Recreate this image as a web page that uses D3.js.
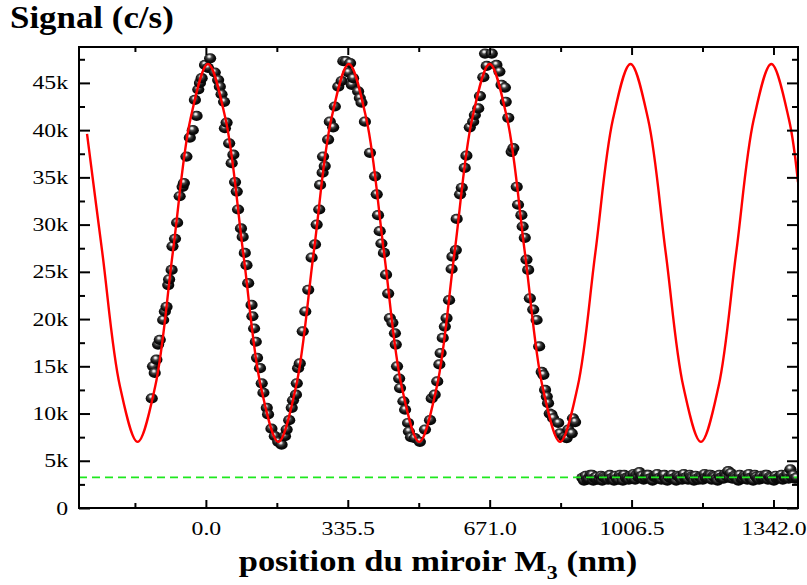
<!DOCTYPE html>
<html>
<head>
<meta charset="utf-8">
<script src="https://cdn.jsdelivr.net/npm/d3@7/dist/d3.min.js"></script>
<style>
  html, body { margin: 0; padding: 0; background: #fff; }
  svg { display: block; }
  text { font-family: "Liberation Serif", "Times New Roman", serif; }
</style>
</head>
<body>
<svg id="chart" width="807" height="585"></svg>
<script>
// ---------------- DATA ----------------
// measured points, oscillating part: mirror position (nm) and signal (k c/s)
const obsX = [
  -128,-125,-121,-117,-113,-109,-101,-97,-93,-89,-87,-81,-79,-73,-68,-62,-55,-52,-46,-38,-31,-26,-22,-18,-14,-10,-2,5,10,
  21,29,33,37,43,45,49,55,61,65,69,73,76,83,87,92,96,100,108,110,114,118,121,128,132,136,144,147,155,163,171,179,
  187,191,197,203,206,213,215,218,222,229,235,242,250,258,262,268,270,276,277,281,289,293,301,305,313,321,325,331,337,341,
  345,348,360,364,368,376,388,400,404,407,411,415,421,426,431,435,441,447,449,452,457,459,467,471,478,480,485,494,506,
  518,530,534,541,547,552,555,560,565,569,575,581,583,591,593,601,605,612,616,624,632,636,644,648,656,660,664,676,
  687,694,699,707,709,715,723,727,735,738,746,749,754,758,762,766,774,782,788,794,798,802,806,809,813,817,821,833,837,847,853,857,865,868,873
];
const obsY = [
  11.6,15.0,14.3,15.7,17.3,17.8,19.9,20.8,21.3,23.6,24.2,25.2,27.7,28.5,30.2,33.0,34.0,34.4,37.2,39.2,40.0,43.2,41.5,44.3,45.0,45.5,46.9,46.6,47.6,
  46.1,45.3,44.6,43.8,43.0,40.2,40.8,38.6,36.5,37.4,34.5,33.5,31.6,29.6,28.7,27.0,25.7,23.8,21.5,20.3,19.0,17.6,15.9,14.8,13.2,12.2,10.6,9.9,8.4,7.6,7.0,6.7,
  7.6,8.3,9.3,10.6,11.4,12.0,13.2,14.8,15.3,18.7,20.8,23.1,26.5,27.9,30.0,31.6,34.2,35.5,37.2,36.2,39.0,40.9,40.3,42.5,44.6,45.2,47.3,47.3,46.1,47.1,
  44.8,45.5,44.1,43.4,42.9,40.9,37.6,35.1,33.2,31.0,29.3,28.0,27.0,24.7,22.7,20.1,19.6,18.5,17.3,15.0,13.7,12.7,11.3,10.4,9.0,8.1,7.5,7.4,7.0,
  8.3,9.3,11.6,12.0,13.4,15.2,16.4,18.0,19.2,20.1,22.0,25.3,26.6,27.3,30.6,33.2,33.9,36.0,37.3,40.3,40.9,41.6,42.3,43.6,45.6,48.1,46.8,48.1,
  46.9,46.2,44.8,44.5,43.0,41.3,37.7,38.1,34.0,32.1,31.0,29.8,28.6,26.3,25.2,22.2,21.0,19.9,17.1,14.4,14.1,12.5,11.8,11.1,10.0,9.9,9.5,9.0,7.9,7.5,7.4,8.3,7.9,9.5,9.1
];
// measured points, flat (background) part
const flatX = [
  890,894,898,902,905,909,913,916,919,923,926,930,934,937,940,944,947,951,955,958,
  961,965,968,972,976,979,983,986,989,993,997,1000,1004,1008,1011,1015,1018,1022,1025,1028,
  1031,1035,1039,1042,1046,1049,1052,1056,1060,1063,1067,1070,1073,1077,1081,1084,1088,1091,1095,1098,
  1102,1105,1109,1112,1115,1119,1123,1126,1130,1133,1137,1140,1144,1147,1150,1154,1158,1161,1165,1168,
  1172,1175,1179,1182,1186,1189,1193,1196,1200,1203,1207,1210,1214,1217,1221,1224,1228,1231,1235,1238,
  1241,1245,1249,1252,1256,1259,1262,1266,1270,1273,1277,1280,1284,1287,1291,1294,1298,1301,1305,1308,
  1312,1315,1319,1322,1326,1329,1333,1336,1340,1343,1347,1350,1354,1357,1361,1364,1368,1371,1375,1378,
  1382,1385,1389,1392,1396
];
const flatY = [
  3.2,2.9,3.4,3.0,3.1,3.5,3.5,2.9,3.2,3.3,3.0,3.1,3.4,2.9,3.3,3.2,3.1,3.0,3.5,3.1,
  3.2,2.9,3.4,3.1,3.0,3.5,3.3,2.9,3.5,3.2,3.2,3.0,3.4,3.1,3.6,3.0,3.5,3.3,3.8,3.2,
  3.4,3.0,3.2,3.5,3.5,3.1,3.1,2.9,3.3,3.4,3.6,3.1,3.2,3.0,3.4,3.5,3.0,2.9,3.3,3.2,
  3.5,3.1,3.2,2.9,3.4,3.3,3.1,3.0,3.6,3.2,3.3,3.0,3.5,3.3,3.2,2.9,3.4,3.1,3.0,3.3,
  3.3,3.0,3.6,3.2,3.2,3.5,3.5,3.0,3.4,3.3,3.1,2.9,3.5,3.2,3.3,3.1,3.6,3.4,3.9,3.2,
  3.7,3.1,3.4,3.3,3.2,2.9,3.5,3.1,3.1,3.4,3.3,3.0,3.6,3.2,3.2,2.9,3.5,3.3,3.1,3.0,
  3.4,3.1,3.2,3.5,3.5,3.0,3.3,3.2,3.0,2.9,3.4,3.1,3.2,3.3,3.5,3.0,3.3,3.2,3.6,3.1,
  4.1,3.3,3.5,3.1,3.2
];
// fitted curve
const fitX = [-281,-244.8,-203.1,-161.5,-119.9,-78.3,-36.6,5,46.6,88.3,129.9,171.5,213.1,254.8,296.4,338,379.6,421.3,462.9,504.5,546.1,587.8,629.4,671,712.6,754.3,795.9,837.5,879.1,920.8,962.4,1004,1045.6,1087.3,1128.9,1170.5,1212.1,1253.8,1295.4,1337,1378.6,1400];
const fitY = [39.6,27.0,12.86,7.0,12.86,27.0,41.14,47.0,41.14,27.0,12.86,7.0,12.86,27.0,41.14,47.0,41.14,27.0,12.86,7.0,12.86,27.0,41.14,47.0,41.14,27.0,12.86,7.0,12.86,27.0,41.14,47.0,41.14,27.0,12.86,7.0,12.86,27.0,41.14,47.0,41.14,34.5];
// background level (dashed line)
const backgroundLevel = 3.25;
// ticks
const xMajorTicks = [0, 335.5, 671.0, 1006.5, 1342.0];
const xMinorTicks = [-167.75, 167.75, 503.25, 838.75, 1174.25];
const yMajorTicks = [0,5,10,15,20,25,30,35,40,45];
const yMinorTicks = [2.5,7.5,12.5,17.5,22.5,27.5,32.5,37.5,42.5,47.5];
const xDomain = [-300, 1400];
const yDomain = [0, 48.8];
const titleText = "Signal (c/s)";

// ---------------- LAYOUT ----------------
const L = 79, R = 798, T = 47, B = 508;
const SX = 1.25; // horizontal stretch of original rendering

const svg = d3.select("#chart");
const x = d3.scaleLinear().domain(xDomain).range([L, R]);
const y = d3.scaleLinear().domain(yDomain).range([B, T]);

const defs = svg.append("defs");
defs.append("clipPath").attr("id", "plotclip")
  .append("rect").attr("x", L).attr("y", T).attr("width", R - L).attr("height", B - T);
const grad = defs.append("radialGradient").attr("id", "ball")
  .attr("cx", "0.45").attr("cy", "0.42").attr("r", "0.62")
  .attr("fx", "0.42").attr("fy", "0.3");
grad.append("stop").attr("offset", "0").attr("stop-color", "#ffffff");
grad.append("stop").attr("offset", "0.14").attr("stop-color", "#d8d8d8");
grad.append("stop").attr("offset", "0.34").attr("stop-color", "#4a4a4a");
grad.append("stop").attr("offset", "0.62").attr("stop-color", "#111");
grad.append("stop").attr("offset", "1").attr("stop-color", "#000");

const plot = svg.append("g").attr("clip-path", "url(#plotclip)");

// points
const pts = obsX.map((d, i) => ({x: d, y: obsY[i]}))
  .concat(flatX.map((d, i) => ({x: d, y: flatY[i]})));
plot.append("g").selectAll("ellipse").data(pts).join("ellipse")
  .attr("cx", d => x(d.x)).attr("cy", d => y(d.y))
  .attr("rx", 6.1).attr("ry", 5.1)
  .attr("fill", "url(#ball)");

// fitted curve
const line = d3.line().x((d, i) => x(fitX[i])).y(d => y(d)).curve(d3.curveCatmullRom.alpha(0.5));
plot.append("path").attr("d", line(fitY))
  .attr("fill", "none").attr("stroke", "#ff0000").attr("stroke-width", 2.4);

// background dashed line
plot.append("line")
  .attr("x1", x(xDomain[0])).attr("x2", x(xDomain[1]))
  .attr("y1", y(backgroundLevel)).attr("y2", y(backgroundLevel))
  .attr("stroke", "#1ee81e").attr("stroke-width", 1.7).attr("stroke-dasharray", "8,5");

// axes
function styleAxis(g) {
  g.select(".domain").remove();
  g.selectAll(".tick line").attr("stroke", "#000").attr("stroke-width", 2);
}
const fs = 19;
// bottom
const gB = svg.append("g").attr("transform", `translate(0,${B})`)
  .call(d3.axisBottom(x).tickValues(xMajorTicks).tickSize(-8).tickPadding(13.5).tickFormat(d3.format(".1f")))
  .call(styleAxis);
gB.selectAll(".tick text").attr("font-size", fs).attr("fill", "#000")
  .attr("font-family", "Liberation Serif, Times New Roman, serif")
  .attr("transform", `scale(${SX},1)`);
svg.append("g").attr("transform", `translate(0,${B})`)
  .call(d3.axisBottom(x).tickValues(xMinorTicks).tickSize(-5).tickFormat(""))
  .call(styleAxis);
// top
svg.append("g").attr("transform", `translate(0,${T})`)
  .call(d3.axisTop(x).tickValues(xMajorTicks).tickSize(-8).tickFormat(""))
  .call(styleAxis);
svg.append("g").attr("transform", `translate(0,${T})`)
  .call(d3.axisTop(x).tickValues(xMinorTicks).tickSize(-5).tickFormat(""))
  .call(styleAxis);
// left
const gL = svg.append("g").attr("transform", `translate(${L},0)`)
  .call(d3.axisLeft(y).tickValues(yMajorTicks).tickSize(-11).tickPadding(11)
    .tickFormat(d => d === 0 ? "0" : d + "k"))
  .call(styleAxis);
gL.selectAll(".tick text").attr("font-size", fs).attr("fill", "#000")
  .attr("font-family", "Liberation Serif, Times New Roman, serif")
  .attr("x", -11 / SX).attr("transform", `scale(${SX},1)`);
svg.append("g").attr("transform", `translate(${L},0)`)
  .call(d3.axisLeft(y).tickValues(yMinorTicks).tickSize(-6).tickFormat(""))
  .call(styleAxis);
// right
svg.append("g").attr("transform", `translate(${R},0)`)
  .call(d3.axisRight(y).tickValues(yMajorTicks).tickSize(-11).tickFormat(""))
  .call(styleAxis);
svg.append("g").attr("transform", `translate(${R},0)`)
  .call(d3.axisRight(y).tickValues(yMinorTicks).tickSize(-6).tickFormat(""))
  .call(styleAxis);

// frame
svg.append("rect").attr("x", L).attr("y", T).attr("width", R - L).attr("height", B - T)
  .attr("fill", "none").attr("stroke", "#000").attr("stroke-width", 2);

// title
svg.append("text")
  .attr("transform", `translate(10,28) scale(1.09,1)`)
  .attr("font-size", 32).attr("font-weight", "bold").attr("fill", "#000")
  .text(titleText);

// x axis label
const xl = svg.append("text")
  .attr("transform", `translate(438,571) scale(1.15,1)`)
  .attr("text-anchor", "middle")
  .attr("font-size", 30).attr("font-weight", "bold").attr("fill", "#000");
xl.append("tspan").text("position du miroir M");
xl.append("tspan").attr("font-size", 19).attr("dy", 8).text("3");
xl.append("tspan").attr("dy", -8).text(" (nm)");
</script>
</body>
</html>
